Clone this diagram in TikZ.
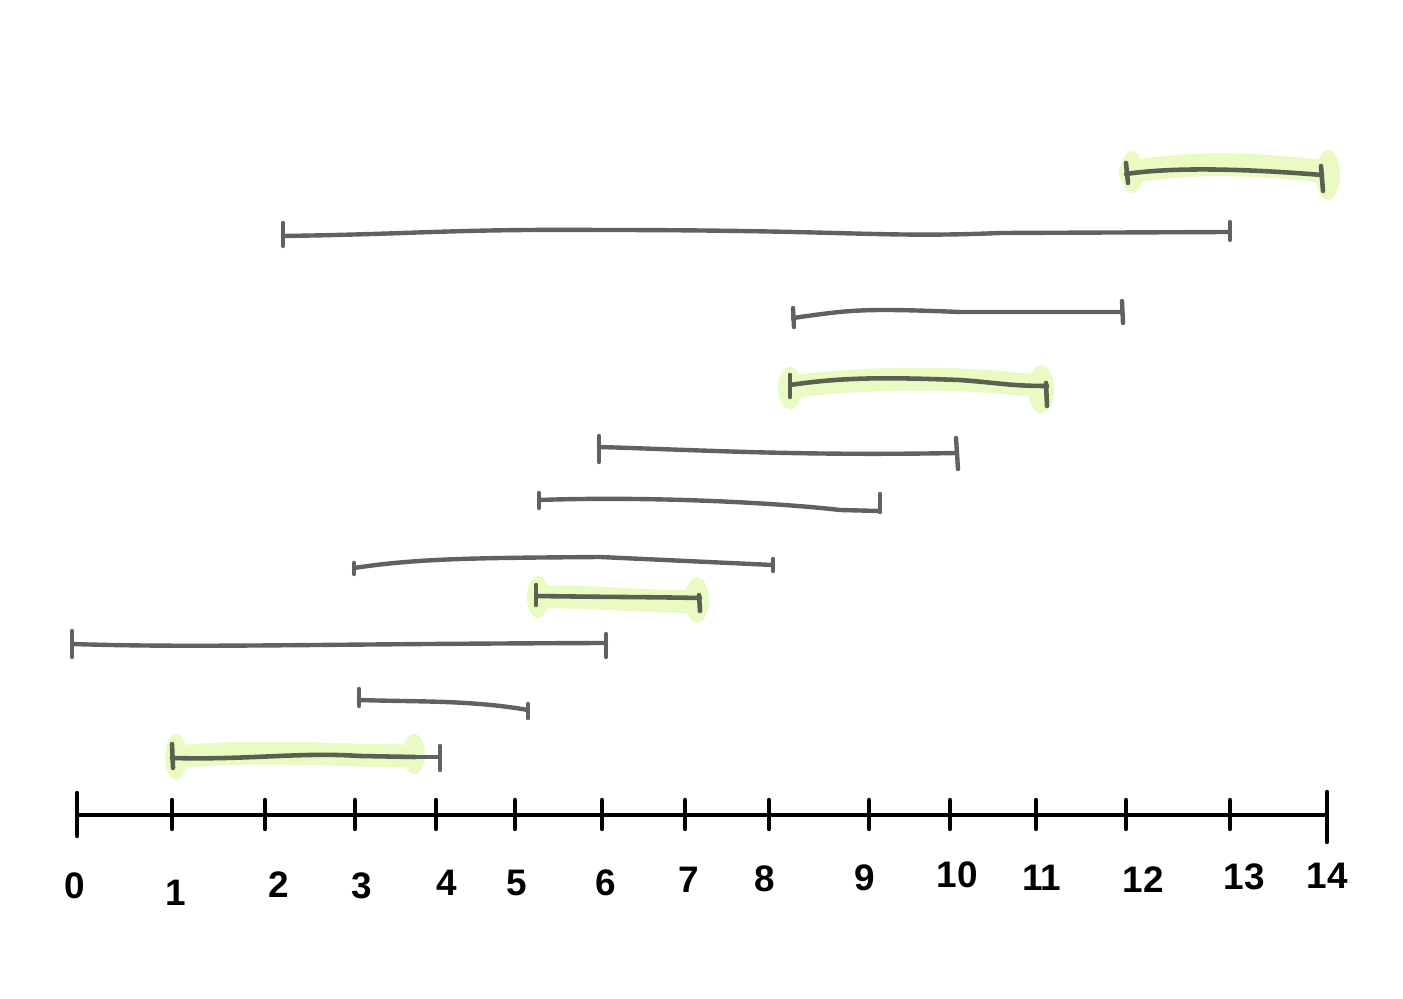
\documentclass[tikz,border=0pt]{standalone}
\usepackage{fontspec}
\setmainfont{Liberation Sans}
\begin{document}
\begin{tikzpicture}[x=0.02cm,y=-0.02cm,
  axisline/.style={line width=2.5pt,black,line cap=round},
  seg/.style={line width=2.5pt,draw=black!62,line cap=round,line join=round},
  hseg/.style={line width=2.6pt,draw=segdark,line cap=round,line join=round},
  hl/.style={line width=13pt,draw=hlc,line cap=round},
  numlab/.style={font=\fontsize{21}{21}\selectfont\bfseries,inner sep=0pt}]
\definecolor{hlc}{HTML}{E9FBC2}
\definecolor{segdark}{HTML}{5A6150}
\useasboundingbox (0,0) rectangle (1403,999);
% axis
\coordinate (a0) at (77,815);
\coordinate (a14) at (1327,815);
\draw[axisline] (a0) -- (a14);
\draw[axisline] (77,793) -- (77,836);
\draw[axisline] (1327,792) -- (1327,842);
\foreach \x/\n in {172/1,265/2,355/3,436/4,515/5,602/6,685/7,769/8,869/9,950/10,1036/11,1126/12,1230/13}
  \draw[axisline] (\x,800) -- (\x,829);
\foreach \x/\yy/\n in {75/886/0,176/893/1,279/885/2,362/886/3,447/883/4,517/883/5,606/883/6,689/880/7,765/879/8,865/878/9,957/875/10,1042/878/11,1143/880/12,1244/877/13,1327/876/14}
  \node[numlab] (n\n) at (\x,\yy) {\n};
% highlights
\draw[hl] (1130,172) .. controls (1200,160) and (1270,165) .. (1328,172);
\fill[hlc] (1132,172) ellipse (11 and 21);
\fill[hlc] (1328,175) ellipse (12 and 25);
\draw[hl] (790,387) .. controls (880,375) and (980,378) .. (1042,387);
\fill[hlc] (790,388) ellipse (12 and 21);
\fill[hlc] (1041,389) ellipse (13 and 24);
\draw[hl] (538,597) .. controls (600,596) and (650,603) .. (698,601);
\fill[hlc] (538,597) ellipse (11 and 21);
\fill[hlc] (697,600) ellipse (12 and 23);
\draw[hl] (176,757) .. controls (260,749) and (340,756) .. (414,756);
\fill[hlc] (176,757) ellipse (11 and 23);
\fill[hlc] (414,754) ellipse (11 and 20);
% intervals
\foreach \i/\xa/\ya/\xb/\yb in {1/1126/174/1322/175,2/283/236/1230/232,3/793/318/1122/312,4/790/385/1047/386,5/599/447/957/453,6/539/500/880/511,7/354/568/773/565,8/536/596/700/598,9/72/644/606/643,10/359/700/528/710,11/172/758/440/757}{
  \coordinate (L\i) at (\xa,\ya);
  \coordinate (R\i) at (\xb,\yb);
}
\draw[hseg] (L1) .. controls (1180,166) and (1260,170) .. (R1);
\draw[hseg] (1126,163) -- (1128,183); \draw[hseg] (1321,166) -- (1323,191);
\draw[seg] (L2) .. controls (420,234) and (450,229) .. (600,230) .. controls (850,230) and (880,238) .. (1000,233) -- (R2);
\draw[seg] (283,223) -- (283,246); \draw[seg] (1230,222) -- (1230,240);
\draw[seg] (L3) .. controls (850,310) and (860,308) .. (960,312) -- (R3);
\draw[seg] (793,308) -- (794,327); \draw[seg] (1122,301) -- (1123,323);
\draw[hseg] (L4) .. controls (850,376) and (900,378) .. (960,380) .. controls (1000,383) and (1010,386) .. (R4);
\draw[hseg] (790,375) -- (790,397); \draw[hseg] (1046,383) -- (1047,406);
\draw[seg] (L5) .. controls (700,450) and (800,456) .. (R5);
\draw[seg] (599,436) -- (599,462); \draw[seg] (956,438) -- (958,469);
\draw[seg] (L6) .. controls (650,496) and (780,503) .. (840,510) -- (R6);
\draw[seg] (539,493) -- (539,508); \draw[seg] (880,494) -- (880,512);
\draw[seg] (L7) .. controls (420,558) and (480,558) .. (600,557) -- (R7);
\draw[seg] (354,563) -- (354,574); \draw[seg] (773,559) -- (773,571);
\draw[hseg] (L8) .. controls (600,597) and (650,597) .. (R8);
\draw[hseg] (536,585) -- (536,605); \draw[hseg] (699,595) -- (700,611);
\draw[seg] (L9) .. controls (200,648) and (300,644) .. (R9);
\draw[seg] (72,631) -- (72,657); \draw[seg] (606,634) -- (606,657);
\draw[seg] (L10) .. controls (420,702) and (470,700) .. (R10);
\draw[seg] (359,689) -- (359,706); \draw[seg] (528,704) -- (528,718);
\draw[seg] (415,757) -- (R11);
\draw[hseg] (L11) .. controls (250,760) and (300,752) .. (360,756) -- (415,757);
\draw[hseg] (172,744) -- (173,768); \draw[seg] (440,746) -- (440,770);
\end{tikzpicture}
\end{document}
